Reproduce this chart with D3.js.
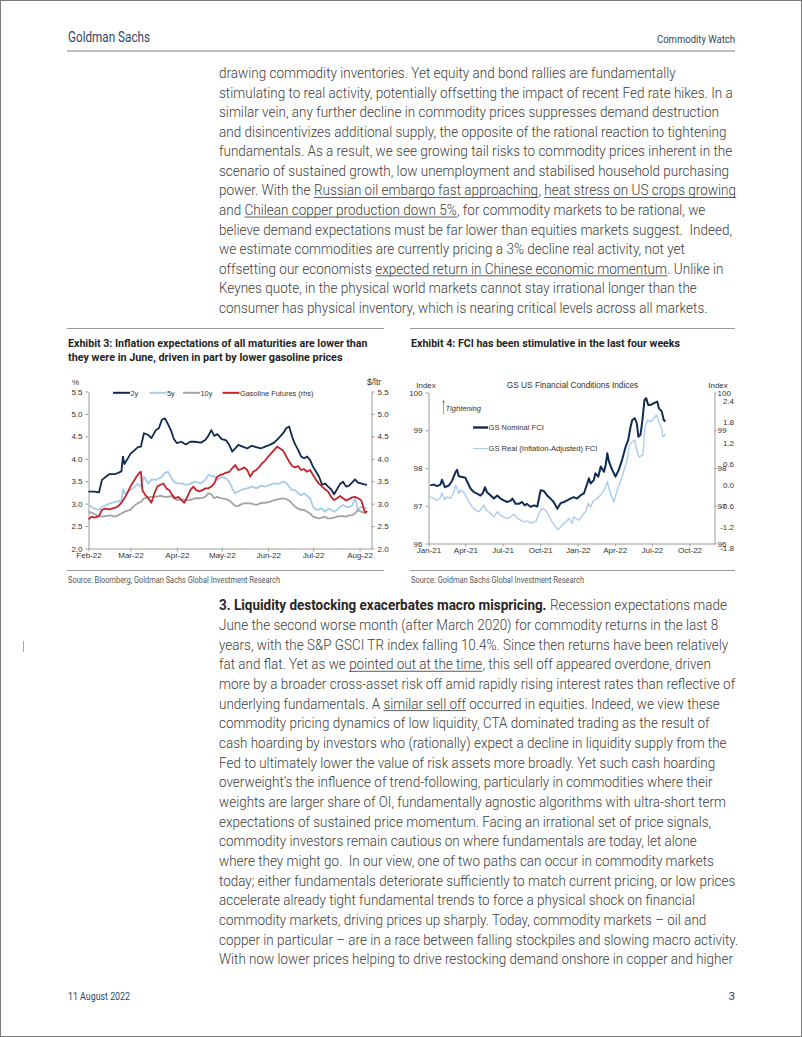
<!DOCTYPE html>
<html><head><meta charset="utf-8">
<script src="https://cdn.jsdelivr.net/npm/d3@7"></script>
<style>
html,body{margin:0;padding:0;background:#fff;}
svg{display:block;}
text{white-space:pre;}
</style></head><body>
<svg id="page" width="802" height="1037"></svg>
<script>
// ---------------- DATA ----------------
// Exhibit 3: breakevens (2y / 5y / 10y) share a date list, gasoline has its own
const beDates = ["02-01","02-05","02-08","02-10","02-15","02-19","02-23","02-24","02-25","03-01","03-04","03-06","03-08","03-09","03-10","03-13","03-15","03-18","03-20","03-22","03-24","03-26","03-28","03-30","04-01","04-04","04-07","04-10","04-13","04-17","04-20","04-22","04-24","04-26","04-28","05-01","05-04","05-06","05-08","05-10","05-12","05-15","05-18","05-21","05-24","05-27","05-30","06-02","06-05","06-08","06-11","06-13","06-15","06-17","06-19","06-21","06-23","06-25","06-27","06-29","07-01","07-03","07-05","07-07","07-09","07-11","07-13","07-15","07-17","07-19","07-21","07-23","07-25","07-27","07-29","07-31","08-02","08-04","08-06"];
const be2y = [3.27,3.27,3.25,3.53,3.66,3.66,3.72,4.05,3.88,4.11,4.20,4.26,4.27,4.42,4.57,4.53,4.46,4.64,4.68,4.87,4.90,4.78,4.64,4.44,4.35,4.38,4.32,4.38,4.38,4.36,4.42,4.51,4.64,4.51,4.55,4.44,4.41,4.31,4.16,4.23,4.31,4.27,4.23,4.29,4.26,4.23,4.27,4.31,4.36,4.46,4.57,4.68,4.72,4.49,4.32,4.20,4.05,4.01,4.05,3.97,3.82,3.71,3.60,3.42,3.45,3.38,3.32,3.21,3.32,3.44,3.49,3.38,3.40,3.47,3.54,3.47,3.45,3.43,3.42];
const be5y = [2.97,2.89,2.86,2.93,3.00,3.04,3.07,3.32,3.23,3.30,3.38,3.44,3.38,3.50,3.60,3.45,3.54,3.53,3.56,3.60,3.68,3.71,3.60,3.49,3.45,3.45,3.42,3.44,3.49,3.45,3.53,3.64,3.62,3.60,3.53,3.60,3.56,3.49,3.34,3.23,3.27,3.32,3.34,3.38,3.34,3.40,3.38,3.42,3.45,3.44,3.49,3.47,3.38,3.30,3.30,3.23,3.19,3.23,3.17,3.12,2.93,2.86,2.87,2.89,2.82,2.89,2.86,2.82,2.86,2.93,2.97,2.93,2.93,2.95,3.12,2.86,2.93,2.92,2.89];
const be10y = [2.82,2.77,2.72,2.71,2.74,2.71,2.78,2.80,2.82,2.86,2.97,3.01,3.04,3.08,3.12,3.14,3.15,3.15,3.17,3.17,3.15,3.15,3.17,3.12,3.08,3.10,3.08,3.08,3.12,3.12,3.15,3.23,3.21,3.12,3.15,3.12,3.10,3.07,3.01,2.95,2.95,3.00,3.01,3.00,2.97,3.01,3.02,3.04,3.08,3.10,3.12,3.10,3.07,3.00,2.93,2.89,2.86,2.86,2.82,2.78,2.71,2.69,2.67,2.69,2.71,2.67,2.67,2.69,2.71,2.72,2.72,2.71,2.74,2.74,2.78,2.86,2.82,2.80,2.80];
const gasDates = ["02-01","02-03","02-05","02-08","02-10","02-12","02-15","02-19","02-21","02-23","02-25","02-27","03-01","03-03","03-05","03-07","03-08","03-09","03-11","03-13","03-15","03-17","03-19","03-21","03-23","03-25","03-27","03-29","03-31","04-02","04-04","04-06","04-08","04-10","04-12","04-14","04-16","04-18","04-20","04-22","04-24","04-26","04-28","04-30","05-02","05-04","05-06","05-08","05-10","05-12","05-14","05-16","05-18","05-20","05-22","05-24","05-26","05-28","05-30","06-01","06-03","06-05","06-07","06-09","06-11","06-13","06-15","06-17","06-19","06-21","06-23","06-25","06-27","06-29","07-01","07-03","07-05","07-07","07-09","07-11","07-13","07-15","07-17","07-19","07-21","07-23","07-25","07-27","07-29","07-31","08-02","08-03","08-04","08-05","08-06"];
const gasFut = [2.65,2.71,2.69,2.72,2.86,2.89,2.87,2.91,2.95,3.02,3.12,3.24,3.38,3.49,3.60,3.69,3.71,3.30,3.19,3.12,3.02,3.23,3.38,3.42,3.45,3.34,3.30,3.19,3.12,3.15,3.08,3.02,3.15,3.30,3.38,3.30,3.27,3.30,3.34,3.34,3.38,3.45,3.60,3.64,3.66,3.69,3.71,3.79,3.86,3.75,3.77,3.81,3.75,3.60,3.71,3.75,3.82,3.90,3.96,4.05,4.12,4.20,4.27,4.23,4.18,4.06,3.94,3.84,3.81,3.84,3.75,3.77,3.71,3.75,3.64,3.53,3.44,3.38,3.32,3.27,3.15,3.08,3.12,3.17,3.12,3.07,3.10,3.14,3.15,3.12,3.08,2.99,2.86,2.80,2.84];
const ex3Ticks = [2.0,2.5,3.0,3.5,4.0,4.5,5.0,5.5];
const ex3Months = ["2022-02-01","2022-03-01","2022-04-01","2022-05-01","2022-06-01","2022-07-01","2022-08-01"];

// Exhibit 4: GS FCI
const fciNomDates = ["2021-01-05","2021-01-14","2021-01-22","2021-01-30","2021-02-03","2021-02-10","2021-02-20","2021-02-28","2021-03-08","2021-03-12","2021-03-16","2021-03-24","2021-04-01","2021-04-06","2021-04-14","2021-04-22","2021-04-30","2021-05-08","2021-05-14","2021-05-19","2021-05-24","2021-06-02","2021-06-10","2021-06-18","2021-06-26","2021-07-04","2021-07-12","2021-07-20","2021-07-25","2021-08-02","2021-08-10","2021-08-18","2021-08-24","2021-08-30","2021-09-07","2021-09-16","2021-09-24","2021-10-02","2021-10-10","2021-10-18","2021-10-26","2021-11-03","2021-11-12","2021-11-20","2021-11-28","2021-12-06","2021-12-14","2021-12-22","2021-12-30","2022-01-08","2022-01-16","2022-01-24","2022-01-28","2022-02-01","2022-02-09","2022-02-13","2022-02-20","2022-02-26","2022-03-06","2022-03-10","2022-03-14","2022-03-18","2022-03-26","2022-04-03","2022-04-11","2022-04-19","2022-04-28","2022-05-04","2022-05-10","2022-05-14","2022-05-20","2022-05-25","2022-05-29","2022-06-03","2022-06-07","2022-06-13","2022-06-17","2022-06-22","2022-06-28","2022-07-06","2022-07-14","2022-07-18","2022-07-25","2022-07-30","2022-08-03"];
const fciNominal = [97.54,97.56,97.52,97.56,97.69,97.49,97.54,97.67,97.89,97.95,97.78,97.76,97.74,97.63,97.45,97.36,97.32,97.27,97.34,97.49,97.36,97.27,97.19,97.27,97.19,97.14,97.10,97.13,97.19,97.05,97.05,97.10,97.01,97.05,96.97,97.01,96.98,97.41,97.39,97.27,97.19,97.10,96.92,97.07,97.10,97.14,97.19,97.23,97.19,97.28,97.33,97.59,97.73,97.59,97.68,97.86,97.77,98.04,97.90,98.08,98.39,98.17,97.95,97.77,97.95,98.21,98.57,98.74,99.10,99.27,99.32,99.19,98.83,98.88,99.19,99.81,99.85,99.67,99.67,99.72,99.76,99.58,99.50,99.27,99.23];
const fciRealDates = ["2021-01-05","2021-01-14","2021-01-22","2021-01-30","2021-02-03","2021-02-10","2021-02-16","2021-02-24","2021-03-04","2021-03-08","2021-03-12","2021-03-16","2021-03-20","2021-03-28","2021-04-01","2021-04-10","2021-04-18","2021-04-26","2021-05-04","2021-05-11","2021-05-16","2021-05-22","2021-06-02","2021-06-10","2021-06-18","2021-06-26","2021-07-04","2021-07-12","2021-07-20","2021-07-29","2021-08-06","2021-08-14","2021-08-22","2021-08-30","2021-09-07","2021-09-20","2021-09-28","2021-10-06","2021-10-14","2021-10-22","2021-10-30","2021-11-08","2021-11-14","2021-11-24","2021-12-02","2021-12-10","2021-12-18","2021-12-22","2022-01-04","2022-01-12","2022-01-20","2022-01-26","2022-02-01","2022-02-09","2022-02-17","2022-02-26","2022-03-06","2022-03-14","2022-03-22","2022-03-30","2022-04-07","2022-04-15","2022-04-24","2022-05-02","2022-05-07","2022-05-14","2022-05-20","2022-05-25","2022-05-30","2022-06-09","2022-06-14","2022-06-20","2022-06-28","2022-07-06","2022-07-12","2022-07-18","2022-07-25","2022-07-28","2022-07-31","2022-08-03"];
const fciReal = [-0.32,-0.37,-0.42,-0.34,-0.21,-0.40,-0.32,-0.37,-0.18,0.01,-0.08,-0.23,-0.13,-0.18,-0.27,-0.47,-0.61,-0.70,-0.75,-0.65,-0.56,-0.70,-0.80,-0.90,-0.75,-0.85,-0.90,-0.94,-0.90,-0.82,-0.94,-0.99,-1.04,-1.01,-1.07,-1.04,-0.80,-0.65,-0.70,-0.85,-1.04,-1.18,-1.26,-1.13,-1.04,-0.94,-1.08,-0.90,-0.99,-0.85,-0.75,-0.51,-0.61,-0.42,-0.37,-0.27,-0.13,0.11,-0.23,-0.47,-0.13,0.11,0.44,0.78,1.16,1.25,1.30,1.02,0.82,0.87,1.68,1.88,1.83,1.92,2.02,1.83,1.64,1.40,1.42,1.47];
const ex4IndexTicks = [96,97,98,99,100];
const ex4RealTicks = [2.4,1.8,1.2,0.6,0.0,-0.6,-1.2,-1.8];
const ex4Quarters = ["2021-01-01","2021-04-01","2021-07-01","2021-10-01","2022-01-01","2022-04-01","2022-07-01","2022-10-01"];

// Body text
const para1 = [
 "drawing commodity inventories. Yet equity and bond rallies are fundamentally",
 "stimulating to real activity, potentially offsetting the impact of recent Fed rate hikes. In a",
 "similar vein, any further decline in commodity prices suppresses demand destruction",
 "and disincentivizes additional supply, the opposite of the rational reaction to tightening",
 "fundamentals. As a result, we see growing tail risks to commodity prices inherent in the",
 "scenario of sustained growth, low unemployment and stabilised household purchasing",
 ["power. With the ", ["Russian oil embargo fast approaching","u"], ", ", ["heat stress on US crops growing","u"]],
 ["and ", ["Chilean copper production down 5%","u"], ", for commodity markets to be rational, we"],
 "believe demand expectations must be far lower than equities markets suggest.  Indeed,",
 "we estimate commodities are currently pricing a 3% decline real activity, not yet",
 ["offsetting our economists ", ["expected return in Chinese economic momentum","u"], ". Unlike in"],
 "Keynes quote, in the physical world markets cannot stay irrational longer than the",
 "consumer has physical inventory, which is nearing critical levels across all markets."
];
const para2 = [
 [["3. Liquidity destocking exacerbates macro mispricing.","b"], " Recession expectations made"],
 "June the second worse month (after March 2020) for commodity returns in the last 8",
 "years, with the S&P GSCI TR index falling 10.4%. Since then returns have been relatively",
 ["fat and flat. Yet as we ", ["pointed out at the time","u"], ", this sell off appeared overdone, driven"],
 "more by a broader cross-asset risk off amid rapidly rising interest rates than reflective of",
 ["underlying fundamentals. A ", ["similar sell off","u"], " occurred in equities. Indeed, we view these"],
 "commodity pricing dynamics of low liquidity, CTA dominated trading as the result of",
 "cash hoarding by investors who (rationally) expect a decline in liquidity supply from the",
 "Fed to ultimately lower the value of risk assets more broadly. Yet such cash hoarding",
 "overweight\u2019s the influence of trend-following, particularly in commodities where their",
 "weights are larger share of OI, fundamentally agnostic algorithms with ultra-short term",
 "expectations of sustained price momentum. Facing an irrational set of price signals,",
 "commodity investors remain cautious on where fundamentals are today, let alone",
 "where they might go.  In our view, one of two paths can occur in commodity markets",
 "today; either fundamentals deteriorate sufficiently to match current pricing, or low prices",
 "accelerate already tight fundamental trends to force a physical shock on financial",
 "commodity markets, driving prices up sharply. Today, commodity markets \u2013 oil and",
 "copper in particular \u2013 are in a race between falling stockpiles and slowing macro activity.",
 "With now lower prices helping to drive restocking demand onshore in copper and higher"
];

// ---------------- DRAWING ----------------
const svg = d3.select("#page");
const BODY_FONT = "Roboto, 'Liberation Sans', sans-serif";
const CHART_FONT = "'Liberation Sans', Arial, sans-serif";
const NAVY = "#10294f", LBLUE = "#a8cbe9", GREY = "#a3a3a3", RED = "#c3232b";

svg.append("rect").attr("x",0.5).attr("y",0.5).attr("width",801).attr("height",1036)
  .attr("fill","#fff").attr("stroke","#7a7a7a").attr("stroke-width",1);

function fitText(x, y, str, size, len, o={}) {
  const t = svg.append("text").attr("x",x).attr("y",y).text(str)
    .attr("font-family", o.family || BODY_FONT).attr("font-size", size)
    .attr("font-weight", o.weight || 400).attr("fill", o.fill || "#333")
    .attr("font-style", o.style || "normal");
  if (o.anchor) t.attr("text-anchor", o.anchor);
  if (len) t.attr("textLength", len).attr("lengthAdjust","spacingAndGlyphs");
  return t;
}

// Header / footer
const HDR = "#2e4668";
fitText(68, 41.5, "Goldman Sachs", 14, 82, {fill:HDR});
fitText(657, 43, "Commodity Watch", 11.5, 78, {fill:HDR});
svg.append("line").attr("x1",67).attr("x2",735).attr("y1",51).attr("y2",51).attr("stroke","#bdbdbd").attr("stroke-width",2);
fitText(68, 999.5, "11 August 2022", 11.5, 62, {fill:HDR});
fitText(735, 999.5, "3", 11.5, null, {fill:HDR, anchor:"end"});
svg.append("line").attr("x1",23.5).attr("x2",23.5).attr("y1",641).attr("y2",652).attr("stroke","#aaa");

// Paragraphs: each segment is its own <text>, placed after the previous one
function paragraph(lines, x0, y0, step, fullIdx, targetW) {
  const g = svg.append("g");
  const widths = lines.map((line, i) => {
    const segs = typeof line === "string" ? [line] : line;
    let cx = 0;
    segs.forEach(s => {
      const txt = typeof s === "string" ? s : s[0];
      const kind = Array.isArray(s) ? s[1] : "";
      const t = g.append("text").attr("x", cx).attr("y", y0 + i*step).text(txt)
        .attr("font-family", BODY_FONT).attr("font-size", 14)
        .attr("font-weight", kind === "b" ? 700 : 300)
        .attr("fill", kind === "b" ? "#262626" : "#3d3d3d");
      const w = t.node().getComputedTextLength();
      if (kind === "u") {
        g.append("line").attr("x1", cx).attr("x2", cx + w)
          .attr("y1", y0 + i*step + 2).attr("y2", y0 + i*step + 2)
          .attr("stroke", "#444").attr("stroke-width", 0.9);
      }
      cx += w;
    });
    return cx;
  });
  const nat = d3.sum(fullIdx, i => widths[i]);
  const sx = targetW * fullIdx.length / nat;
  g.attr("transform", `translate(${x0},0) scale(${sx},1)`);
}
paragraph(para1, 219, 78, 19.58, [1,3,4,6,8,10], 512);
paragraph(para2, 219, 610.3, 19.66, [0,2,4,14,17], 514);

// Exhibit frames
[[67,384],[410,735]].forEach(([a,b]) => {
  svg.append("line").attr("x1",a).attr("x2",b).attr("y1",328.5).attr("y2",328.5).attr("stroke","#9a9a9a");
  svg.append("line").attr("x1",a).attr("x2",b).attr("y1",570.5).attr("y2",570.5).attr("stroke","#9a9a9a");
});
fitText(68, 347, "Exhibit 3: Inflation expectations of all maturities are lower than", 11.5, 299.5, {weight:700, fill:"#1f1f1f"});
fitText(68, 360.5, "they were in June, driven in part by lower gasoline prices", 11.5, 274.5, {weight:700, fill:"#1f1f1f"});
fitText(411, 347, "Exhibit 4: FCI has been stimulative in the last four weeks", 11.5, 269, {weight:700, fill:"#1f1f1f"});
fitText(68, 582.5, "Source: Bloomberg, Goldman Sachs Global Investment Research", 8.8, 212, {fill:"#555"});
fitText(411, 582.5, "Source: Goldman Sachs Global Investment Research", 8.8, 173, {fill:"#555"});

function styleAxis(g, size) {
  g.selectAll("path,line").attr("stroke","#9b9b9b").attr("stroke-width",1);
  g.selectAll("text").attr("font-family",CHART_FONT).attr("font-size",size).attr("fill","#333");
}

// ---------- Exhibit 3 ----------
const p = d3.timeParse("%Y-%m-%d");
const x1 = d3.scaleTime().domain([p("2022-02-01"), p("2022-08-09")]).range([88.5, 371.5]);
const y1 = d3.scaleLinear().domain([2, 5.5]).range([548.5, 391.5]);
const y1r = d3.scaleLinear().domain([2, 5.5]).range([548.5, 391.5]);
const c1 = svg.append("g");
styleAxis(c1.append("g").attr("transform","translate(88.5,0)")
  .call(d3.axisLeft(y1).tickValues(ex3Ticks).tickFormat(d3.format(".1f")).tickSize(3).tickPadding(3).tickSizeOuter(0)), 8);
styleAxis(c1.append("g").attr("transform","translate(371.5,0)")
  .call(d3.axisRight(y1r).tickValues(ex3Ticks).tickFormat(d3.format(".1f")).tickSize(3).tickPadding(3).tickSizeOuter(0)), 8);
styleAxis(c1.append("g").attr("transform","translate(0,548.5)")
  .call(d3.axisBottom(x1).tickValues(ex3Months.map(p)).tickFormat(d3.timeFormat("%b-%y")).tickSize(3).tickPadding(1).tickSizeOuter(0)), 8);
c1.append("text").attr("x",75.5).attr("y",384.5).attr("text-anchor","middle").text("%")
  .attr("font-family",CHART_FONT).attr("font-size",8).attr("fill","#333");
c1.append("text").attr("x",367).attr("y",385).text("$/ltr")
  .attr("font-family",CHART_FONT).attr("font-size",8.5).attr("fill","#333");

const beSeries = [
  {name:"2y", vals:be2y, color:NAVY, y:y1},
  {name:"5y", vals:be5y, color:LBLUE, y:y1},
  {name:"10y", vals:be10y, color:GREY, y:y1}
];
beSeries.forEach(s => {
  const data = beDates.map((d,i) => ({date:p("2022-"+d), v:s.vals[i]}));
  c1.append("path").datum(data).attr("fill","none").attr("stroke",s.color).attr("stroke-width",1.8)
    .attr("stroke-linejoin","round")
    .attr("d", d3.line().x(d=>x1(d.date)).y(d=>s.y(d.v)));
});
const gasData = gasDates.map((d,i) => ({date:p("2022-"+d), v:gasFut[i]}));
c1.append("path").datum(gasData).attr("fill","none").attr("stroke",RED).attr("stroke-width",1.8)
  .attr("stroke-linejoin","round")
  .attr("d", d3.line().x(d=>x1(d.date)).y(d=>y1r(d.v)));

// legend
const leg1 = [
  {t:"2y", c:NAVY, x:113},
  {t:"5y", c:LBLUE, x:149.5},
  {t:"10y", c:GREY, x:183},
  {t:"Gasoline Futures (rhs)", c:RED, x:222.5}
];
leg1.forEach(l => {
  c1.append("line").attr("x1",l.x).attr("x2",l.x+17).attr("y1",392.8).attr("y2",392.8)
    .attr("stroke",l.c).attr("stroke-width",2);
  c1.append("text").attr("x",l.x+17.5).attr("y",395.5).text(l.t)
    .attr("font-family",CHART_FONT).attr("font-size",7.4).attr("fill","#333");
});

// ---------- Exhibit 4 ----------
const x2 = d3.scaleTime().domain([p("2021-01-01"), p("2022-12-01")]).range([428.5, 714.5]);
const y2 = d3.scaleLinear().domain([96, 100]).range([543.5, 392.5]);
const y2r = d3.scaleLinear().domain([-1.8, 2.4]).range([548.5, 401.7]);
const c2 = svg.append("g");
styleAxis(c2.append("g").attr("transform","translate(428.5,0)")
  .call(d3.axisLeft(y2).tickValues(ex4IndexTicks).tickFormat(d3.format("d")).tickSize(3).tickPadding(3).tickSizeOuter(0)), 8);
styleAxis(c2.append("g").attr("transform","translate(714.5,0)")
  .call(d3.axisRight(y2).tickValues(ex4IndexTicks).tickFormat(d3.format("d")).tickSize(2).tickPadding(1).tickSizeOuter(0)), 8);
styleAxis(c2.append("g").attr("transform","translate(0,543.5)")
  .call(d3.axisBottom(x2).tickValues(ex4Quarters.map(p)).tickFormat(d3.timeFormat("%b-%y")).tickSize(3).tickPadding(1).tickSizeOuter(0)), 8);
c2.selectAll(".realtick").data(ex4RealTicks).join("text")
  .attr("x",734).attr("y",d=>y2r(d)).attr("dy","0.32em").attr("text-anchor","end")
  .text(d=>d.toFixed(1)).attr("font-family",CHART_FONT).attr("font-size",8).attr("fill","#333");
c2.append("text").attr("x",426).attr("y",388).attr("text-anchor","middle").text("Index")
  .attr("font-family",CHART_FONT).attr("font-size",8).attr("fill","#333");
c2.append("text").attr("x",718).attr("y",388).attr("text-anchor","middle").text("Index")
  .attr("font-family",CHART_FONT).attr("font-size",8).attr("fill","#333");
c2.append("text").attr("x",572.5).attr("y",388).attr("text-anchor","middle").text("GS US Financial Conditions Indices")
  .attr("font-family",CHART_FONT).attr("font-size",8.3).attr("fill","#333");

const nomData = fciNomDates.map((d,i)=>({date:p(d), v:fciNominal[i]}));
const realData = fciRealDates.map((d,i)=>({date:p(d), v:fciReal[i]}));
c2.append("path").datum(nomData).attr("fill","none").attr("stroke","#0f2c53").attr("stroke-width",2)
  .attr("stroke-linejoin","round").attr("d", d3.line().x(d=>x2(d.date)).y(d=>y2(d.v)));
c2.append("path").datum(realData).attr("fill","none").attr("stroke","#a9cdee").attr("stroke-width",1.4)
  .attr("stroke-linejoin","round").attr("d", d3.line().x(d=>x2(d.date)).y(d=>y2r(d.v)));

// arrow + Tightening
c2.append("defs").append("marker").attr("id","ah").attr("viewBox","0 0 6 6").attr("refX",3).attr("refY",3)
  .attr("markerWidth",4).attr("markerHeight",4).attr("orient","auto")
  .append("path").attr("d","M0,0 L6,3 L0,6 Z").attr("fill","#888");
c2.append("line").attr("x1",443.5).attr("x2",443.5).attr("y1",414).attr("y2",401).attr("stroke","#888")
  .attr("stroke-width",0.8).attr("marker-end","url(#ah)");
c2.append("text").attr("x",445.5).attr("y",411).text("Tightening").attr("font-style","italic")
  .attr("font-family",CHART_FONT).attr("font-size",7.6).attr("fill","#333");
// legend
[{t:"GS Nominal FCI", c:"#0f2c53", w:2.4, y:427.5},{t:"GS Real (Inflation-Adjusted) FCI", c:"#a9cdee", w:1.2, y:448.5}]
 .forEach(l => {
  c2.append("line").attr("x1",473).attr("x2",488).attr("y1",l.y).attr("y2",l.y).attr("stroke",l.c).attr("stroke-width",l.w);
  c2.append("text").attr("x",488.5).attr("y",l.y+2.8).text(l.t)
    .attr("font-family",CHART_FONT).attr("font-size",7.6).attr("fill","#333");
 });
</script>
</body></html>
